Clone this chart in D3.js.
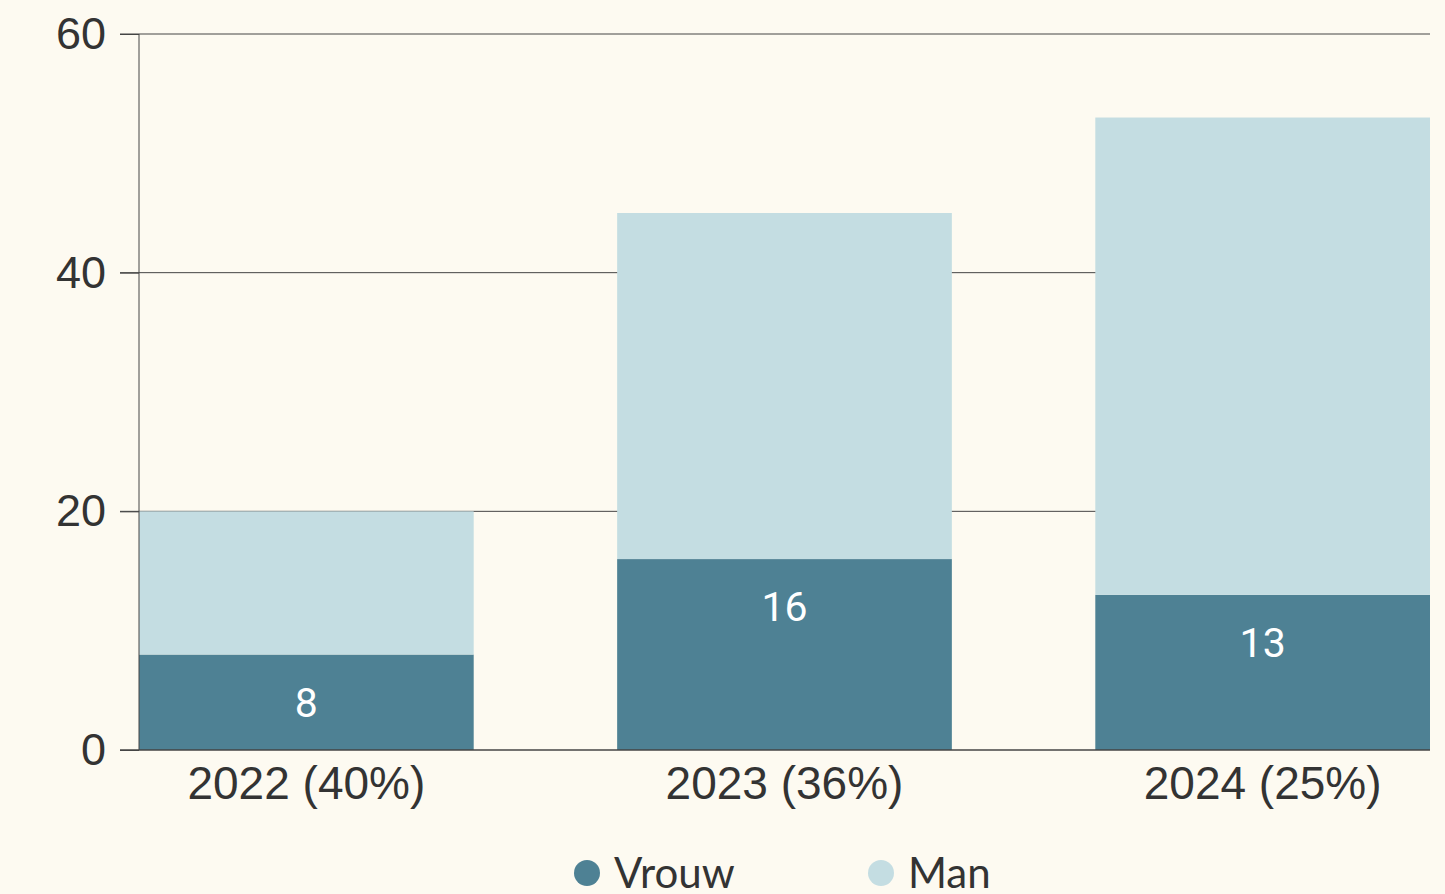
<!DOCTYPE html>
<html><head><meta charset="utf-8">
<script src="https://cdn.jsdelivr.net/npm/d3@7"></script>
<style>
html,body{margin:0;padding:0;background:#fdfaf1;}
svg{display:block;}
</style></head>
<body>
<svg id="chart" width="1445" height="894"></svg>
<script>
const categories = ["2022 (40%)", "2023 (36%)", "2024 (25%)"];
const vrouw = [8, 16, 13];
const man = [12, 29, 40];
const yTicks = [0, 20, 40, 60];
const seriesNames = ["Vrouw", "Man"];
const colors = ["#4e8194", "#c4dde2"];

const svg = d3.select("#chart");
const W = 1445, H = 894;
const m = {left: 139, right: 15, top: 34, bottom: 144};
const axisFont = "'Liberation Sans', Arial, sans-serif";

svg.append("rect").attr("width", W).attr("height", H).attr("fill", "#fdfaf1");

const x = d3.scaleBand().domain(categories).range([m.left, W - m.right]).paddingInner(0.3).paddingOuter(0);
const y = d3.scaleLinear().domain([0, 60]).range([H - m.bottom, m.top]);

// grid
svg.append("g").selectAll("line").data(yTicks.filter(d => d > 0)).join("line")
  .attr("x1", 120).attr("x2", W - m.right)
  .attr("y1", d => y(d)).attr("y2", d => y(d))
  .attr("stroke", "#444").attr("stroke-width", 1);

// stacked bars
const rows = categories.map((c, i) => ({cat: c, Vrouw: vrouw[i], Man: man[i]}));
const stack = d3.stack().keys(seriesNames)(rows);
svg.append("g").selectAll("g").data(stack).join("g")
  .attr("fill", (d, i) => colors[i])
  .selectAll("rect").data(d => d).join("rect")
  .attr("x", d => x(d.data.cat))
  .attr("width", x.bandwidth())
  .attr("y", d => y(d[1]))
  .attr("height", d => y(d[0]) - y(d[1]));

// value labels on Vrouw (near top of segment)
svg.append("g").selectAll("text").data(stack[0]).join("text")
  .attr("x", d => x(d.data.cat) + x.bandwidth() / 2)
  .attr("y", d => y(d[1]) + 48)
  .attr("dy", "0.35em")
  .attr("text-anchor", "middle")
  .attr("fill", "#ffffff")
  .attr("font-family", "Roboto, sans-serif")
  .attr("font-size", 41)
  .text(d => d.data.Vrouw);

// y axis
const yAxis = svg.append("g").attr("transform", `translate(${m.left},0)`)
  .call(d3.axisLeft(y).tickValues(yTicks).tickSize(19).tickPadding(14));
yAxis.select(".domain").attr("stroke", "#444").attr("d", `M0,${y(60)}V${y(0)}`);
yAxis.selectAll(".tick line").attr("stroke", "#444");
yAxis.selectAll(".tick text").attr("fill", "#333").attr("font-family", axisFont).attr("font-size", 45);

// x axis baseline
svg.append("line").attr("x1", 120).attr("x2", W - m.right)
  .attr("y1", y(0)).attr("y2", y(0)).attr("stroke", "#444").attr("stroke-width", 1.5);

const xAxis = svg.append("g").attr("transform", `translate(0,${y(0)})`)
  .call(d3.axisBottom(x).tickSize(0).tickPadding(16));
xAxis.select(".domain").remove();
xAxis.selectAll(".tick text").attr("fill", "#333").attr("font-family", axisFont).attr("font-size", 46);

// legend
const legendX = [587, 881];
const lg = svg.append("g").selectAll("g").data(seriesNames).join("g")
  .attr("transform", (d, i) => `translate(${legendX[i]},873)`);
lg.append("circle").attr("r", 13).attr("fill", (d, i) => colors[i]);
lg.append("text").attr("x", 27).attr("y", 0).attr("dy", "0.36em")
  .attr("fill", "#333").attr("font-family", "Lato, 'Open Sans', sans-serif").attr("font-size", 42)
  .text(d => d);
</script>
</body></html>
